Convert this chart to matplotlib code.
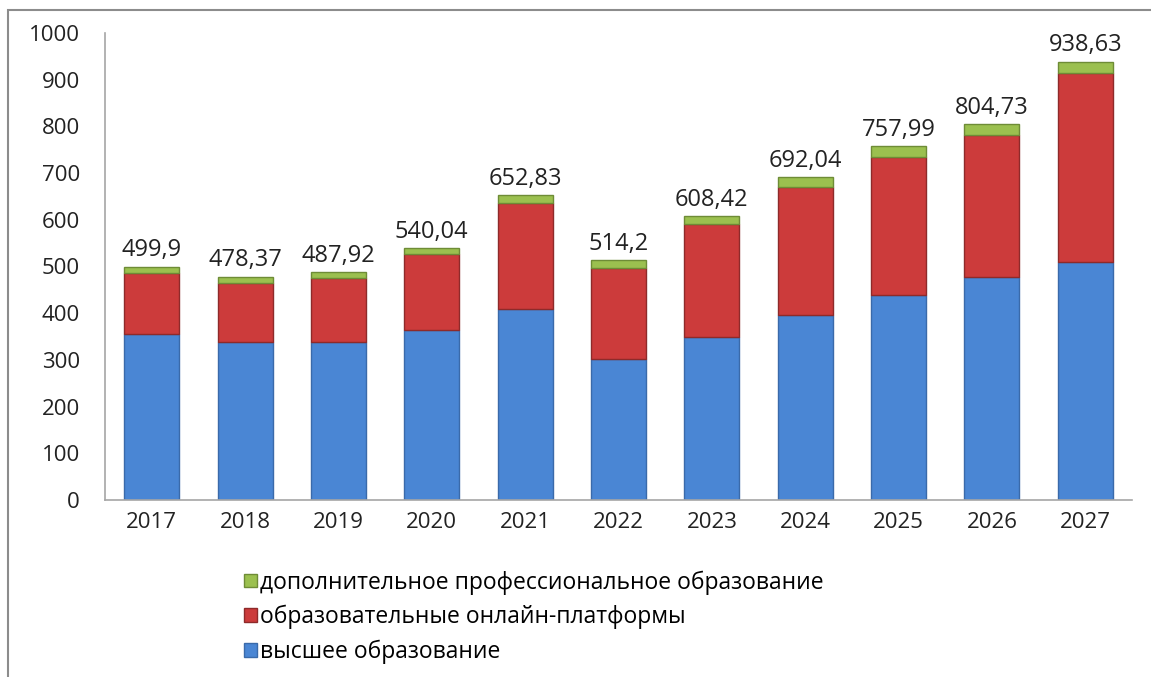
import matplotlib
matplotlib.use("Agg")
import matplotlib.pyplot as plt
from matplotlib.patches import Rectangle, Patch

years = ["2017", "2018", "2019", "2020", "2021", "2022", "2023", "2024", "2025", "2026", "2027"]
higher_ed = [355, 339, 339, 363, 410, 302, 348, 396, 440, 478, 509]
online_platforms = [132, 125, 136, 164, 227, 194, 242, 275, 294, 304, 406]
additional_prof = [12.9, 14.37, 12.92, 13.04, 15.83, 18.2, 18.42, 21.04, 23.99, 22.73, 23.63]
total_labels = ["499,9", "478,37", "487,92", "540,04", "652,83", "514,2", "608,42",
                "692,04", "757,99", "804,73", "938,63"]
yticks = [0, 100, 200, 300, 400, 500, 600, 700, 800, 900, 1000]

names = ["высшее образование", "образовательные онлайн-платформы",
         "дополнительное профессиональное образование"]
colors = ["#4A86D4", "#CC3B3B", "#9BC04F"]
edges = ["#3A6AAA", "#8E2A2A", "#6E8C36"]

plt.rcParams['font.family'] = ['Open Sans', 'DejaVu Sans']

fig = plt.figure(figsize=(11.51, 6.77), dpi=100)
ax = fig.add_axes([105/1151, 1 - 500/677, (1132 - 105)/1151, (500 - 33)/677])

x = list(range(len(years)))
w = 0.59
bottom = [0.0] * len(years)
for vals, c, ec in zip([higher_ed, online_platforms, additional_prof], colors, edges):
    ax.bar(x, vals, width=w, bottom=bottom, color=c, edgecolor=ec, linewidth=1.0)
    bottom = [b + v for b, v in zip(bottom, vals)]

for xi, top, lab in zip(x, bottom, total_labels):
    ax.annotate(lab, (xi, top), xytext=(0, 3), textcoords="offset points",
                ha="center", va="bottom", fontsize=17, color="#222222")

ax.set_xlim(-0.5, len(years) - 0.5)
ax.set_ylim(0, 1000)
ax.set_yticks(yticks)
ax.set_yticklabels([str(t) for t in yticks], fontsize=16, color="#222222")
ax.set_xticks(x)
ax.set_xticklabels(years, fontsize=16, color="#222222")
ax.tick_params(axis="both", length=0)
ax.tick_params(axis="x", pad=9)
ax.tick_params(axis="y", pad=18)
for s in ["top", "right"]:
    ax.spines[s].set_visible(False)
for s in ["left", "bottom"]:
    ax.spines[s].set_color("#A6A6A6")
    ax.spines[s].set_linewidth(1.2)

handles = [Patch(facecolor=colors[i], edgecolor=edges[i]) for i in [2, 1, 0]]
labels = [names[i] for i in [2, 1, 0]]
fig.legend(handles, labels, loc="upper left", bbox_to_anchor=(235/1151, 1 - 561/677),
           frameon=False, fontsize=16.5, handlelength=0.55, handleheight=0.55,
           handletextpad=0.12, labelspacing=0.45, borderaxespad=0)

fig.add_artist(Rectangle((8/1151, -0.01), 1.1, 1 - 10/677 + 0.01, transform=fig.transFigure,
                         fill=False, edgecolor="#8C8C8C", linewidth=1.5))

fig.savefig("out.png", dpi=100)
